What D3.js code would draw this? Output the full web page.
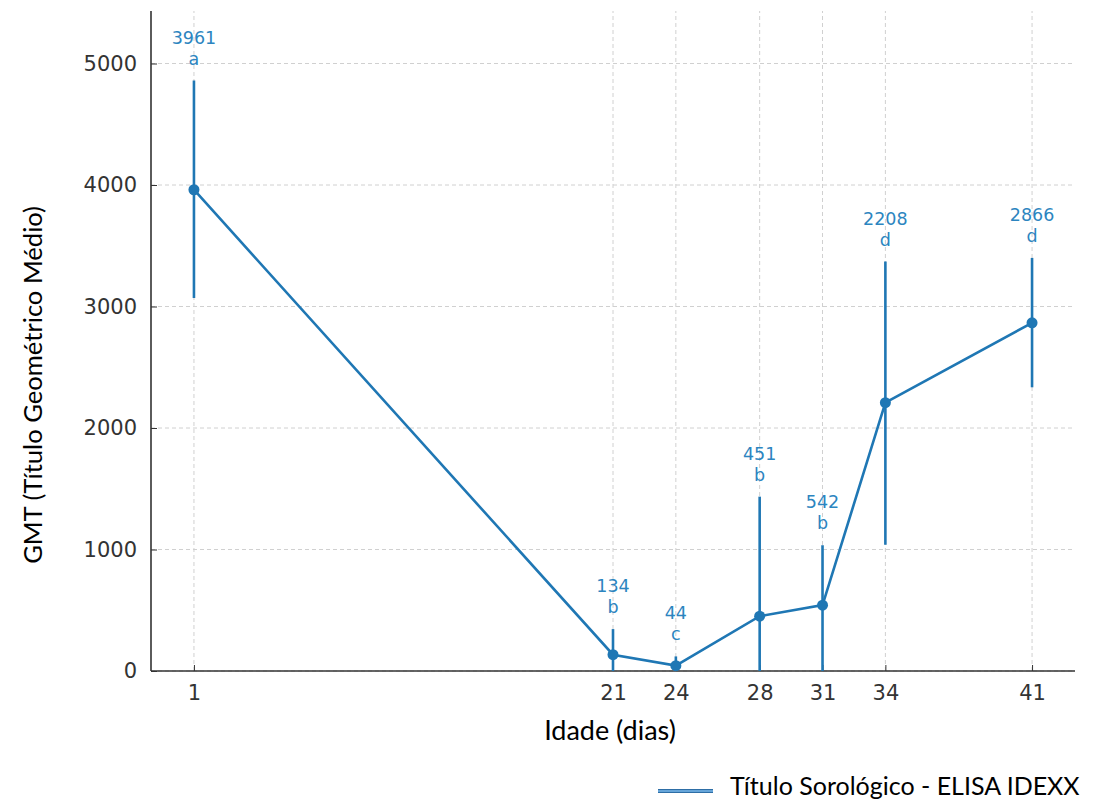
<!DOCTYPE html>
<html><head><meta charset="utf-8">
<script src="https://cdn.jsdelivr.net/npm/d3@7"></script>
<style>body{margin:0;background:#fff}svg{display:block}</style>
</head><body>
<svg id="c" width="1097" height="801"></svg>
<script>
const days = [1, 21, 24, 28, 31, 34, 41];
const gmt = [3961, 134, 44, 451, 542, 2208, 2866];
const errLow = [3070, 0, 0, 0, 0, 1040, 2335];
const errHigh = [4860, 345, 120, 1435, 1035, 3370, 3400];
const letters = ["a", "b", "c", "b", "b", "d", "d"];
const yTicks = [0, 1000, 2000, 3000, 4000, 5000];
const seriesName = "Título Sorológico - ELISA IDEXX";

const svg = d3.select("#c");
const m = {l: 151, r: 22, t: 11, b: 130};
const W = 1097, H = 801;
const x = d3.scaleLinear().domain([-1.05, 43.05]).range([m.l, W - m.r]);
const y = d3.scaleLinear().domain([0, 5000]).range([671, 63.5]);
const color = "#1f77b4";
const tickFont = "'DejaVu Sans', sans-serif";

// grid
const g = svg.append("g");
g.selectAll(".gy").data(yTicks).enter().append("line")
  .attr("x1", m.l).attr("x2", W - m.r).attr("y1", d => y(d)).attr("y2", d => y(d))
  .attr("stroke", "#d0d0d0").attr("stroke-width", 1).attr("stroke-dasharray", "4,3");
g.selectAll(".gx").data(days).enter().append("line")
  .attr("x1", d => x(d)).attr("x2", d => x(d)).attr("y1", y(0)).attr("y2", m.t)
  .attr("stroke", "#d0d0d0").attr("stroke-width", 1).attr("stroke-dasharray", "4,3");

// axes (ticks pointing inward)
const yAxis = d3.axisLeft(y).tickValues(yTicks).tickSize(-6).tickPadding(14).tickFormat(d3.format("d"));
const ya = svg.append("g").attr("transform", `translate(${m.l},0)`).call(yAxis);
ya.select(".domain").attr("d", `M0,${m.t}V${y(0)}`).attr("stroke", "#333").attr("stroke-width", 1.6);
ya.selectAll(".tick line").attr("stroke", "#333");
ya.selectAll(".tick text").style("font-family", tickFont).style("font-size", "21px").attr("fill", "#333");

const xAxis = d3.axisBottom(x).tickValues(days).tickSize(-6).tickPadding(14).tickFormat(d3.format("d"));
const xa = svg.append("g").attr("transform", `translate(0,${y(0)})`).call(xAxis);
xa.select(".domain").attr("d", `M${m.l},0H${W - m.r}`).attr("stroke", "#333").attr("stroke-width", 1.6);
xa.selectAll(".tick line").attr("stroke", "#333");
xa.selectAll(".tick text").style("font-family", tickFont).style("font-size", "21px").attr("fill", "#333");

// error bars
svg.selectAll(".eb").data(days).enter().append("line")
  .attr("x1", d => x(d)).attr("x2", d => x(d))
  .attr("y1", (d, i) => y(errLow[i])).attr("y2", (d, i) => y(errHigh[i]))
  .attr("stroke", color).attr("stroke-width", 2.6);

// line
const line = d3.line().x((d, i) => x(days[i])).y(d => y(d));
svg.append("path").datum(gmt).attr("d", line)
  .attr("fill", "none").attr("stroke", color).attr("stroke-width", 2.6);
svg.selectAll(".pt").data(gmt).enter().append("circle")
  .attr("cx", (d, i) => x(days[i])).attr("cy", d => y(d)).attr("r", 5.5).attr("fill", color);

// annotations
const ann = svg.selectAll(".ann").data(days).enter().append("g");
ann.append("text").attr("x", d => x(d)).attr("y", (d, i) => y(errHigh[i]) - 37)
  .attr("text-anchor", "middle").style("font-family", tickFont).style("font-size", "17.5px")
  .attr("fill", "#2c85c0").text((d, i) => gmt[i]);
ann.append("text").attr("x", d => x(d)).attr("y", (d, i) => y(errHigh[i]) - 16)
  .attr("text-anchor", "middle").style("font-family", tickFont).style("font-size", "17.5px")
  .attr("fill", "#2c85c0").text((d, i) => letters[i]);

// axis titles
const titleFont = "Lato, 'Liberation Sans', sans-serif";
svg.append("text").attr("x", 610).attr("y", 740).attr("text-anchor", "middle")
  .style("font-family", titleFont).style("font-size", "27px").attr("fill", "#000").text("Idade (dias)");
svg.append("text").attr("transform", "translate(42,385) rotate(-90)").attr("text-anchor", "middle")
  .style("font-family", titleFont).style("font-size", "25.6px").attr("fill", "#000").text("GMT (Título Geométrico Médio)");

// legend
svg.append("line").attr("x1", 658).attr("x2", 713).attr("y1", 791).attr("y2", 791)
  .attr("stroke", "#2e6ea6").attr("stroke-width", 4);
svg.append("line").attr("x1", 658).attr("x2", 713).attr("y1", 791).attr("y2", 791)
  .attr("stroke", "#7ab8ea").attr("stroke-width", 1.5);
svg.append("text").attr("x", 730).attr("y", 795).style("font-family", titleFont)
  .style("font-size", "25px").attr("fill", "#000").text(seriesName);
</script>
</body></html>
